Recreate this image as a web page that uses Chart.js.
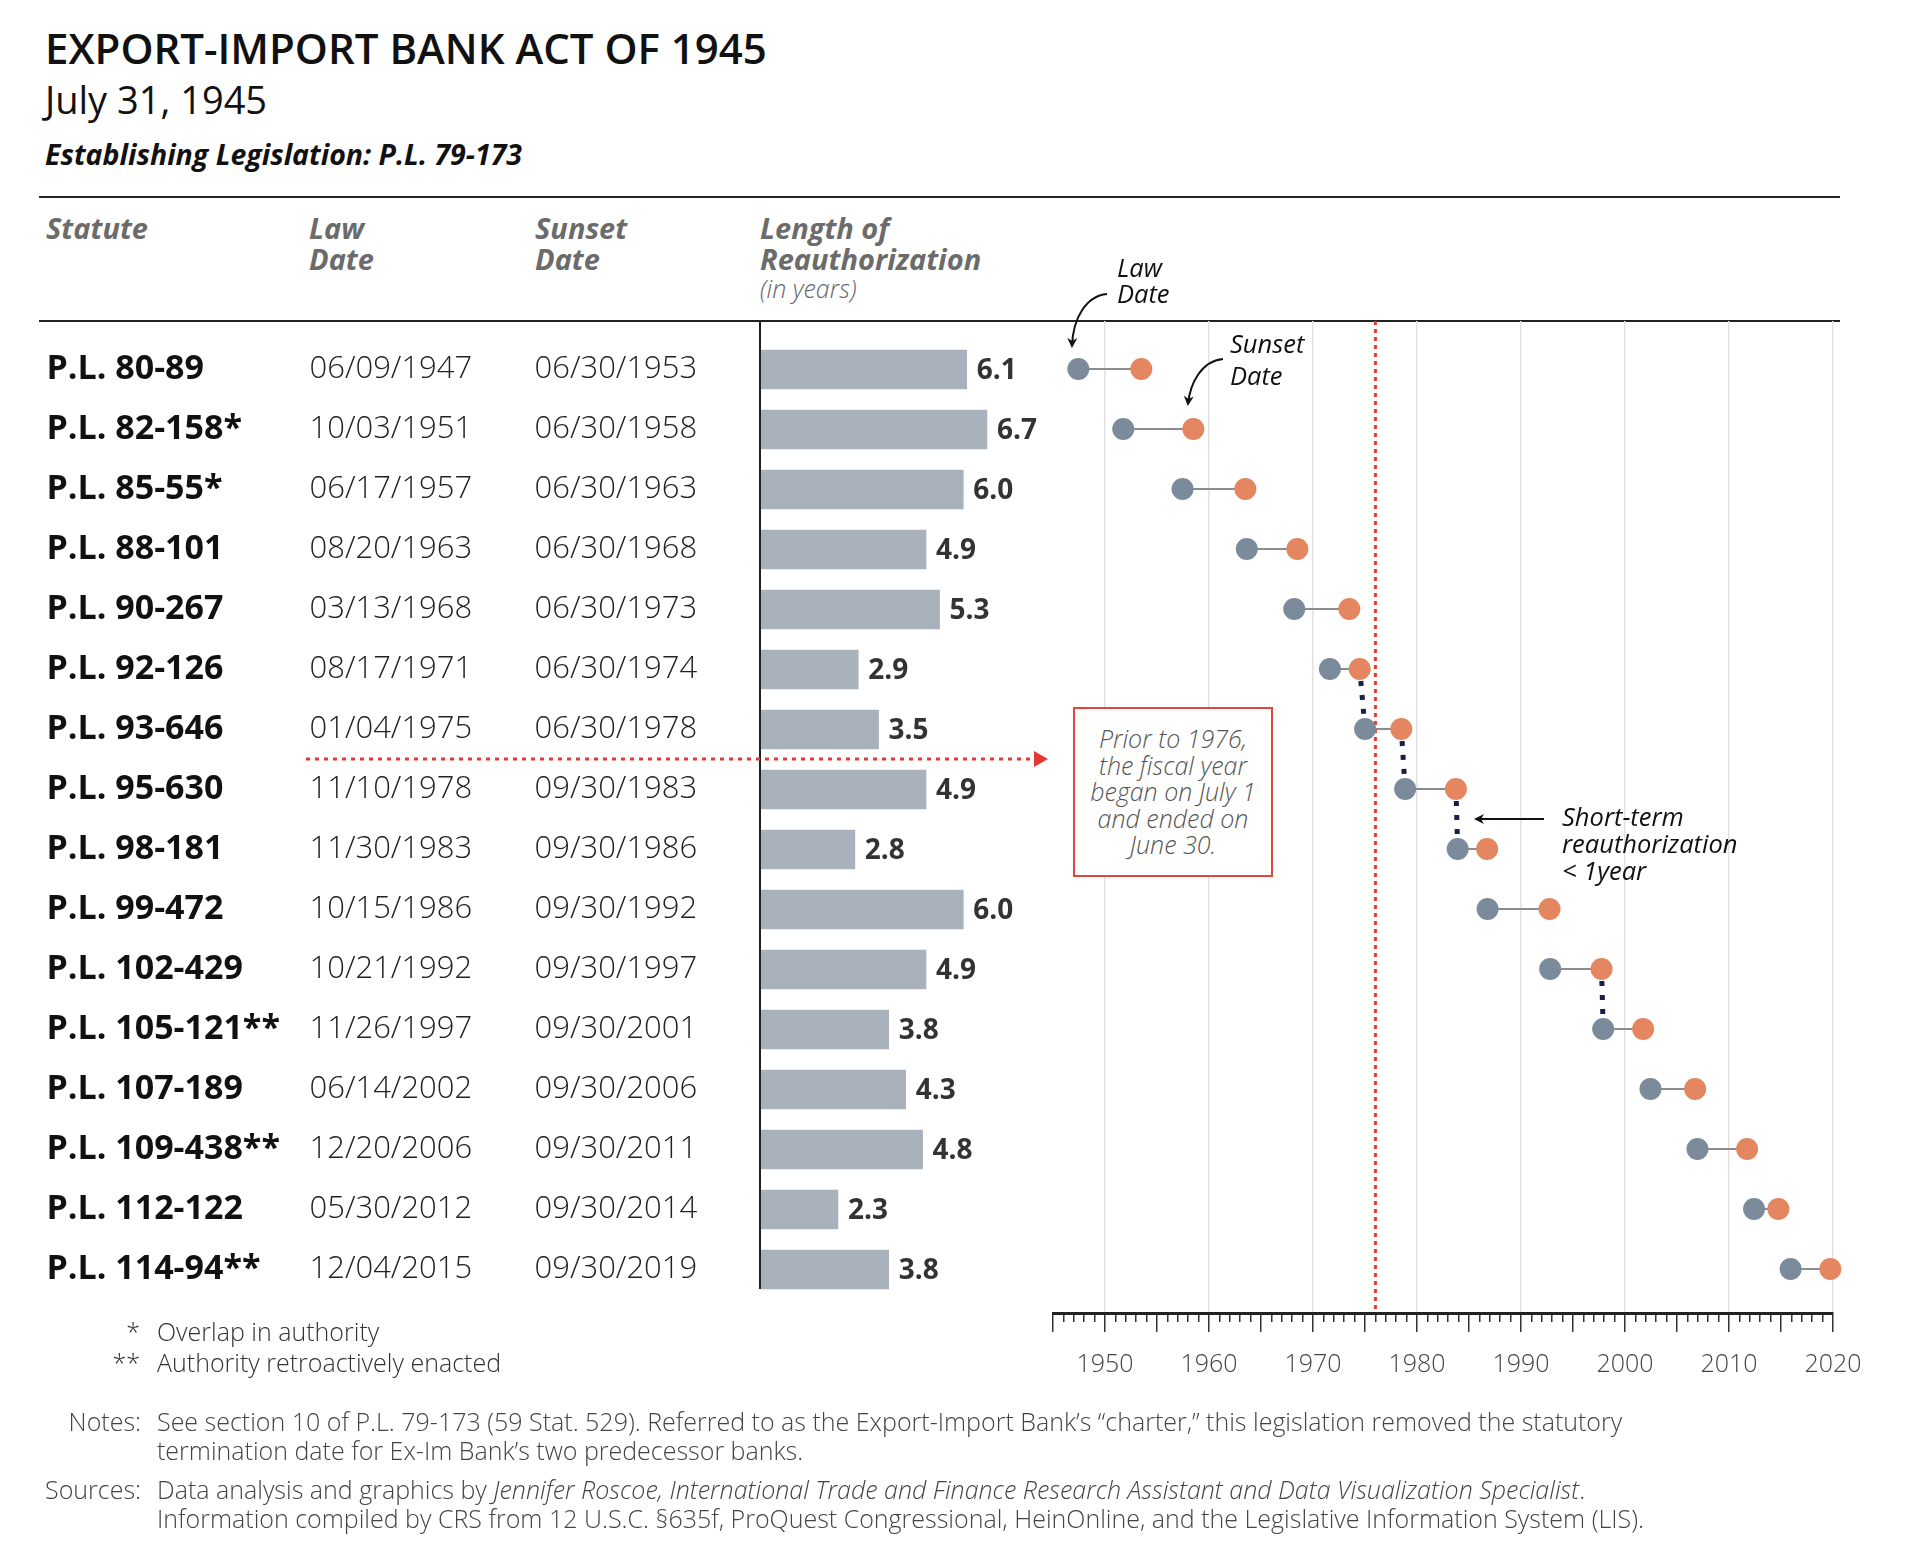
<!DOCTYPE html>
<html>
<head>
<meta charset="utf-8">
<script src="https://cdn.jsdelivr.net/npm/chart.js@4.4.0/dist/chart.umd.min.js"></script>
<style>
  body { margin: 0; background: #fff; width: 1920px; height: 1561px; position: relative; overflow: hidden; font-family: 'Open Sans', sans-serif; color: #222; }
  canvas { position: absolute; left: 0; top: 0; }
  .t { position: absolute; line-height: 1; white-space: nowrap; }
  .rule { position: absolute; left: 39px; width: 1801px; height: 2px; background: #222; }
  .hd { font-size: 29px; font-weight: 700; font-style: italic; color: #6b6b6b; }
  .ann { font-size: 25.5px; font-style: italic; color: #111; }
  .foot { font-size: 25px; font-weight: 300; color: #333; }
  .note { font-size: 25px; font-weight: 300; color: #444; }
  #fybox { position: absolute; left: 1073px; top: 707px; width: 196px; height: 166px; border: 2px solid #e0463c; background: #fff;
           font-size: 25px; font-weight: 300; font-style: italic; color: #555; text-align: center; line-height: 26.5px; }
  #fybox div { margin-top: 16px; }
  svg { position: absolute; left: 0; top: 0; }
</style>
</head>
<body>

<div class="t" style="left:45px;top:27px;font-size:42px;font-weight:600;color:#111">EXPORT-IMPORT BANK ACT OF 1945</div>
<div class="t" style="left:45px;top:80px;font-size:38px;font-weight:400;color:#111">July 31, 1945</div>
<div class="t" style="left:45px;top:140px;font-size:28.5px;font-weight:700;font-style:italic;color:#111">Establishing Legislation: P.L. 79-173</div>

<div class="rule" style="top:196px"></div>
<div class="rule" style="top:320px"></div>

<div class="t hd" style="left:46px;top:213px">Statute</div>
<div class="t hd" style="left:309px;top:213px">Law</div>
<div class="t hd" style="left:309px;top:244px">Date</div>
<div class="t hd" style="left:535px;top:213px">Sunset</div>
<div class="t hd" style="left:535px;top:244px">Date</div>
<div class="t hd" style="left:760px;top:213px">Length of</div>
<div class="t hd" style="left:760px;top:244px">Reauthorization</div>
<div class="t" style="left:760px;top:276px;font-size:25px;font-weight:300;font-style:italic;color:#666">(in years)</div>

<canvas id="bars" width="1920" height="1561"></canvas>
<canvas id="dumbbell" width="1920" height="1561"></canvas>

<svg width="1920" height="1561">
  <defs>
    <marker id="blk" markerWidth="10" markerHeight="10" refX="8" refY="5" orient="auto" markerUnits="userSpaceOnUse">
      <path d="M0,0 L10,5 L0,10 L3,5 Z" fill="#111"/>
    </marker>
  </defs>
  <!-- fiscal year pointer -->
  <line x1="306" y1="759" x2="1036" y2="759" stroke="#e53935" stroke-width="3" stroke-dasharray="4 5"/>
  <polygon points="1034,751 1048,759 1034,767" fill="#e53935"/>
  <!-- annotation arrows -->
  <path d="M1107,294 C1086,296 1073,318 1072,346" fill="none" stroke="#111" stroke-width="2" marker-end="url(#blk)"/>
  <path d="M1223,359 C1201,361 1190,384 1188,404" fill="none" stroke="#111" stroke-width="2" marker-end="url(#blk)"/>
  <line x1="1544" y1="819" x2="1476" y2="819" stroke="#111" stroke-width="2" marker-end="url(#blk)"/>
</svg>

<div id="fybox"><div>Prior to 1976,<br>the fiscal year<br>began on July 1<br>and ended on<br>June 30.</div></div>

<div class="t ann" style="left:1117px;top:255px">Law</div>
<div class="t ann" style="left:1117px;top:281px">Date</div>
<div class="t ann" style="left:1230px;top:331px">Sunset</div>
<div class="t ann" style="left:1230px;top:363px">Date</div>
<div class="t ann" style="left:1562px;top:804px">Short-term</div>
<div class="t ann" style="left:1562px;top:831px">reauthorization</div>
<div class="t ann" style="left:1562px;top:858px">&lt; 1year</div>

<div class="t foot" style="left:100px;width:40px;text-align:right;top:1319px">*</div>
<div class="t foot" style="left:157px;top:1319px">Overlap in authority</div>
<div class="t foot" style="left:100px;width:40px;text-align:right;top:1350px">**</div>
<div class="t foot" style="left:157px;top:1350px">Authority retroactively enacted</div>

<div class="t note" style="left:30px;width:111px;text-align:right;top:1409px">Notes:</div>
<div class="t note" style="left:157px;top:1409px">See section 10 of P.L. 79-173 (59 Stat. 529). Referred to as the Export-Import Bank’s “charter,” this legislation removed the statutory</div>
<div class="t note" style="left:157px;top:1438px">termination date for Ex-Im Bank’s two predecessor banks.</div>
<div class="t note" style="left:30px;width:111px;text-align:right;top:1477px">Sources:</div>
<div class="t note" style="left:157px;top:1477px">Data analysis and graphics by <i>Jennifer Roscoe, International Trade and Finance Research Assistant and Data Visualization Specialist</i>.</div>
<div class="t note" style="left:157px;top:1506px">Information compiled by CRS from 12 U.S.C. §635f, ProQuest Congressional, HeinOnline, and the Legislative Information System (LIS).</div>

<script>
// ---------- donnees ----------
const statutes = ['P.L. 80-89', 'P.L. 82-158*', 'P.L. 85-55*', 'P.L. 88-101', 'P.L. 90-267', 'P.L. 92-126',
  'P.L. 93-646', 'P.L. 95-630', 'P.L. 98-181', 'P.L. 99-472', 'P.L. 102-429', 'P.L. 105-121**',
  'P.L. 107-189', 'P.L. 109-438**', 'P.L. 112-122', 'P.L. 114-94**'];
const lawDates = ['06/09/1947', '10/03/1951', '06/17/1957', '08/20/1963', '03/13/1968', '08/17/1971',
  '01/04/1975', '11/10/1978', '11/30/1983', '10/15/1986', '10/21/1992', '11/26/1997',
  '06/14/2002', '12/20/2006', '05/30/2012', '12/04/2015'];
const sunsetDates = ['06/30/1953', '06/30/1958', '06/30/1963', '06/30/1968', '06/30/1973', '06/30/1974',
  '06/30/1978', '09/30/1983', '09/30/1986', '09/30/1992', '09/30/1997', '09/30/2001',
  '09/30/2006', '09/30/2011', '09/30/2014', '09/30/2019'];
const lengths = [6.1, 6.7, 6.0, 4.9, 5.3, 2.9, 3.5, 4.9, 2.8, 6.0, 4.9, 3.8, 4.3, 4.8, 2.3, 3.8];
// rows whose sunset was bridged by a short-term reauthorization to the next law
const shortTermRows = [5, 6, 7, 10];
const yearTicks = [1950, 1960, 1970, 1980, 1990, 2000, 2010, 2020];
const fiscalYearChange = 1976;

const HEADER_RULE_Y = 321;

// "MM/DD/YYYY" -> annee decimale
function toYear(s) {
  const [m, d, y] = s.split('/').map(Number);
  const start = Date.UTC(y, 0, 1), end = Date.UTC(y + 1, 0, 1);
  return y + (Date.UTC(y, m - 1, d) - start) / (end - start);
}
const lawYears = lawDates.map(toYear);
const sunsetYears = sunsetDates.map(toYear);

// ---------- tableau + barres ----------
const valueLabels = {
  id: 'valueLabels',
  afterDatasetsDraw(chart) {
    const ctx = chart.ctx;
    const meta = chart.getDatasetMeta(0);
    ctx.save();
    ctx.font = 'bold 28px "Open Sans"';
    ctx.fillStyle = '#333';
    ctx.textBaseline = 'middle';
    meta.data.forEach((bar, i) => ctx.fillText(lengths[i].toFixed(1), bar.x + 10, bar.y + 2));
    // ligne de base verticale
    const x0 = chart.scales.x.getPixelForValue(0);
    const last = meta.data[meta.data.length - 1];
    ctx.strokeStyle = '#222';
    ctx.lineWidth = 2;
    ctx.beginPath();
    ctx.moveTo(x0, HEADER_RULE_Y);
    ctx.lineTo(x0, last.y + last.height / 2);
    ctx.stroke();
    ctx.restore();
  }
};

function textAxis(labels, weight, width, font, color) {
  return {
    type: 'category', position: 'left', offset: true, weight: weight,
    labels: labels,
    grid: { display: false, drawTicks: false },
    border: { display: false },
    ticks: { crossAlign: 'far', padding: 0, autoSkip: false, color: color, font: font },
    afterFit: s => { s.width = width; }
  };
}

new Chart(document.getElementById('bars'), {
  type: 'bar',
  data: {
    labels: statutes,
    datasets: [{ data: lengths, backgroundColor: '#a8b1bc', barThickness: 39, yAxisID: 'y' }]
  },
  options: {
    indexAxis: 'y',
    responsive: false,
    animation: false,
    devicePixelRatio: 1,
    events: [],
    layout: { padding: { left: 46.5, right: 889, top: 339.5, bottom: 261.5 } },
    plugins: { legend: { display: false }, tooltip: { enabled: false } },
    scales: {
      x: { display: false, min: 0, max: 8 },
      y: textAxis(statutes, 2, 263, { family: 'Open Sans', size: 34, weight: 'bold' }, '#111'),
      yLaw: textAxis(lawDates, 1, 225, { family: 'Open Sans', size: 31, weight: 300 }, '#222'),
      ySun: textAxis(sunsetDates, 0, 225.5, { family: 'Open Sans', size: 31, weight: 300 }, '#222')
    }
  },
  plugins: [valueLabels]
});

// ---------- haltères (dates) ----------
const rows = statutes.map((_, i) => i);
const yMin = -0.8, yMax = 15.733;

const connectors = rows.map(i => ({
  type: 'line',
  data: [{ x: lawYears[i], y: i }, { x: sunsetYears[i], y: i }],
  borderColor: '#8c8c8c', borderWidth: 2, pointRadius: 0, order: 2
}));
const bridges = shortTermRows.map(i => ({
  type: 'line',
  data: [{ x: sunsetYears[i], y: i }, { x: lawYears[i + 1], y: i + 1 }],
  borderColor: '#15204a', borderWidth: 5, borderDash: [5, 9], borderDashOffset: 2, borderCapStyle: 'butt', pointRadius: 0, order: 1
}));

new Chart(document.getElementById('dumbbell'), {
  type: 'scatter',
  data: {
    datasets: [
      { data: rows.map(i => ({ x: lawYears[i], y: i })), pointRadius: 11, backgroundColor: '#7b8b9b', borderWidth: 0, order: 0, clip: false },
      { data: rows.map(i => ({ x: sunsetYears[i], y: i })), pointRadius: 11, backgroundColor: '#e4865f', borderWidth: 0, order: 0, clip: false },
      ...connectors,
      ...bridges,
      {
        type: 'line',
        data: [{ x: fiscalYearChange, y: yMin }, { x: fiscalYearChange, y: yMax }],
        borderColor: '#e53935', borderWidth: 3, borderDash: [4, 4], pointRadius: 0, order: 3
      }
    ]
  },
  options: {
    responsive: false,
    animation: false,
    devicePixelRatio: 1,
    events: [],
    layout: { padding: { left: 1053, right: 87, top: 321, bottom: 168 } },
    plugins: { legend: { display: false }, tooltip: { enabled: false } },
    scales: {
      x: {
        type: 'linear', min: 1945, max: 2020, position: 'bottom',
        ticks: {
          stepSize: 1, maxTicksLimit: 100, autoSkip: false, maxRotation: 0, padding: 18,
          color: '#444', font: { family: 'Open Sans', size: 25, weight: 300 },
          callback: v => yearTicks.includes(v) ? String(v) : ''
        },
        grid: {
          color: c => (c.tick && yearTicks.includes(c.tick.value)) ? '#e2e2e2' : 'rgba(0,0,0,0)',
          lineWidth: 1.5,
          tickColor: '#333', tickWidth: 1.5, tickLength: 19,
          tickBorderDash: c => (c.tick && c.tick.value % 5 === 0) ? [] : [7, 40]
        },
        border: { color: '#222', width: 3 },
        afterFit: s => { s.height = 80; }
      },
      y: { type: 'linear', display: false, reverse: true, min: yMin, max: yMax }
    }
  }
});
</script>
</body>
</html>
